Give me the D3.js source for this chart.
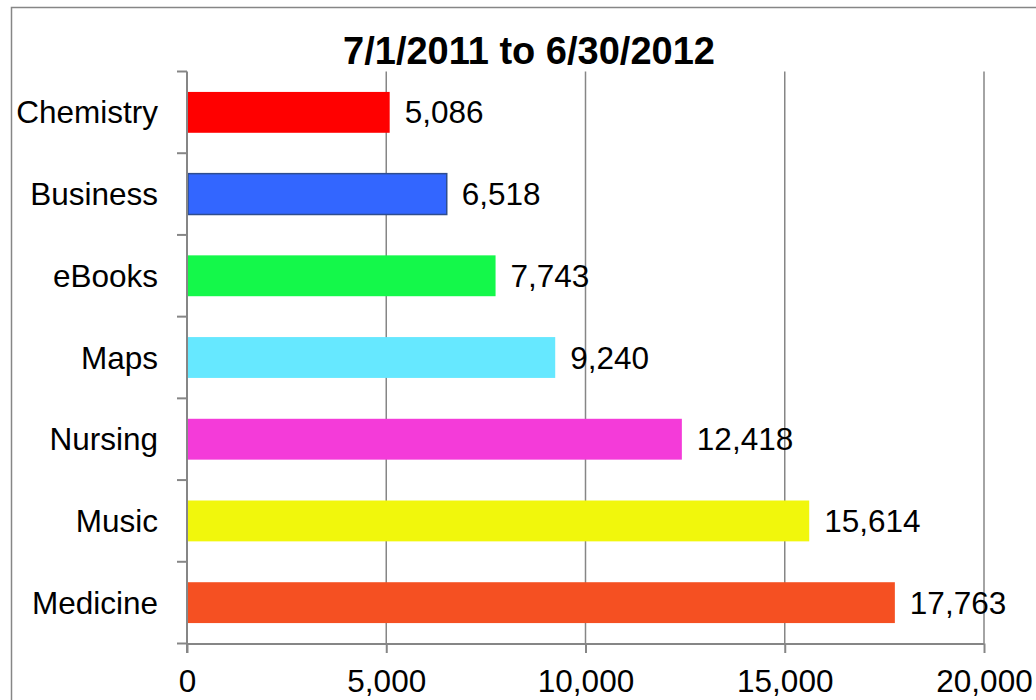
<!DOCTYPE html>
<html>
<head>
<meta charset="utf-8">
<script src="https://cdn.jsdelivr.net/npm/d3@7"></script>
<style>
  html, body { margin: 0; padding: 0; background: #fff; }
  svg { display: block; font-family: "Liberation Sans", Arial, sans-serif; }
</style>
</head>
<body>
<svg id="chart" width="1036" height="700"></svg>
<script>
const title = "7/1/2011 to 6/30/2012";
const categories = ["Chemistry", "Business", "eBooks", "Maps", "Nursing", "Music", "Medicine"];
const values = [5086, 6518, 7743, 9240, 12418, 15614, 17763];
const barColors = ["#FF0000", "#3366FF", "#14F84A", "#66E8FF", "#F43BD9", "#F1F70C", "#F55022"];
const barStrokes = ["none", "#2E4D8F", "none", "none", "none", "none", "none"];
const xTicks = [0, 5000, 10000, 15000, 20000];

(function () {
const svg = d3.select("#chart");
const gray = "#868686";
const plotLeft = 187, plotRight = 984, plotTop = 71.5, plotBottom = 643.5;

// outer border
svg.append("rect")
  .attr("x", 11.5).attr("y", 7.5)
  .attr("width", 1100).attr("height", 800)
  .attr("fill", "none").attr("stroke", gray).attr("stroke-width", 1.5);

const x = d3.scaleLinear().domain([0, 20000]).range([plotLeft, plotRight]);
const y = d3.scaleBand().domain(categories).range([plotTop, plotBottom])
  .paddingInner(0.5).paddingOuter(0.25);

// gridlines
svg.append("g").selectAll("line")
  .data(xTicks.filter(d => d > 0))
  .join("line")
  .attr("x1", d => x(d)).attr("x2", d => x(d))
  .attr("y1", plotTop).attr("y2", plotBottom)
  .attr("stroke", gray).attr("stroke-width", 1.5);

// bars
const data = categories.map((c, i) => ({ c, v: values[i], fill: barColors[i], stroke: barStrokes[i] }));
svg.append("g").selectAll("rect")
  .data(data)
  .join("rect")
  .attr("x", x(0) + 1)
  .attr("y", d => y(d.c))
  .attr("width", d => x(d.v) - x(0) - 1)
  .attr("height", y.bandwidth())
  .attr("fill", d => d.fill)
  .attr("stroke", d => d.stroke)
  .attr("stroke-width", 1.5);

// value labels
svg.append("g").selectAll("text")
  .data(data)
  .join("text")
  .attr("x", d => x(d.v) + 15)
  .attr("y", d => y(d.c) + y.bandwidth() / 2)
  .attr("dy", "0.35em")
  .attr("font-size", 31.5)
  .attr("fill", "#000")
  .text(d => d3.format(",")(d.v));

// y axis
const yAxisBoundary = d3.scaleLinear().domain([0, categories.length]).range([plotTop, plotBottom]);
const yAxis = svg.append("g");
yAxis.append("line")
  .attr("x1", plotLeft).attr("x2", plotLeft)
  .attr("y1", plotTop).attr("y2", plotBottom + 9.5)
  .attr("stroke", gray).attr("stroke-width", 2);
yAxis.selectAll("line.tick")
  .data(d3.range(categories.length + 1))
  .join("line").attr("class", "tick")
  .attr("x1", plotLeft - 10).attr("x2", plotLeft)
  .attr("y1", d => yAxisBoundary(d)).attr("y2", d => yAxisBoundary(d))
  .attr("stroke", gray).attr("stroke-width", 2);
yAxis.selectAll("text")
  .data(categories)
  .join("text")
  .attr("x", 158)
  .attr("y", d => y(d) + y.bandwidth() / 2)
  .attr("dy", "0.35em")
  .attr("text-anchor", "end")
  .attr("font-size", 31.5)
  .attr("fill", "#000")
  .text(d => d);

// x axis
const xAxis = svg.append("g")
  .attr("transform", `translate(0,${plotBottom})`)
  .call(d3.axisBottom(x).tickValues(xTicks).tickFormat(d3.format(",")).tickSizeInner(9.5).tickSizeOuter(0).tickPadding(17));
xAxis.select(".domain").attr("stroke", gray).attr("stroke-width", 2);
xAxis.selectAll(".tick line").attr("stroke", gray).attr("stroke-width", 2);
xAxis.selectAll(".tick text")
  .attr("font-size", 31.5)
  .attr("font-family", "\"Liberation Sans\", Arial, sans-serif")
  .attr("fill", "#000");

// title
svg.append("text")
  .attr("x", 529).attr("y", 64)
  .attr("text-anchor", "middle")
  .attr("font-size", 38)
  .attr("font-weight", "bold")
  .attr("fill", "#000")
  .text(title);
})();
</script>
</body>
</html>
